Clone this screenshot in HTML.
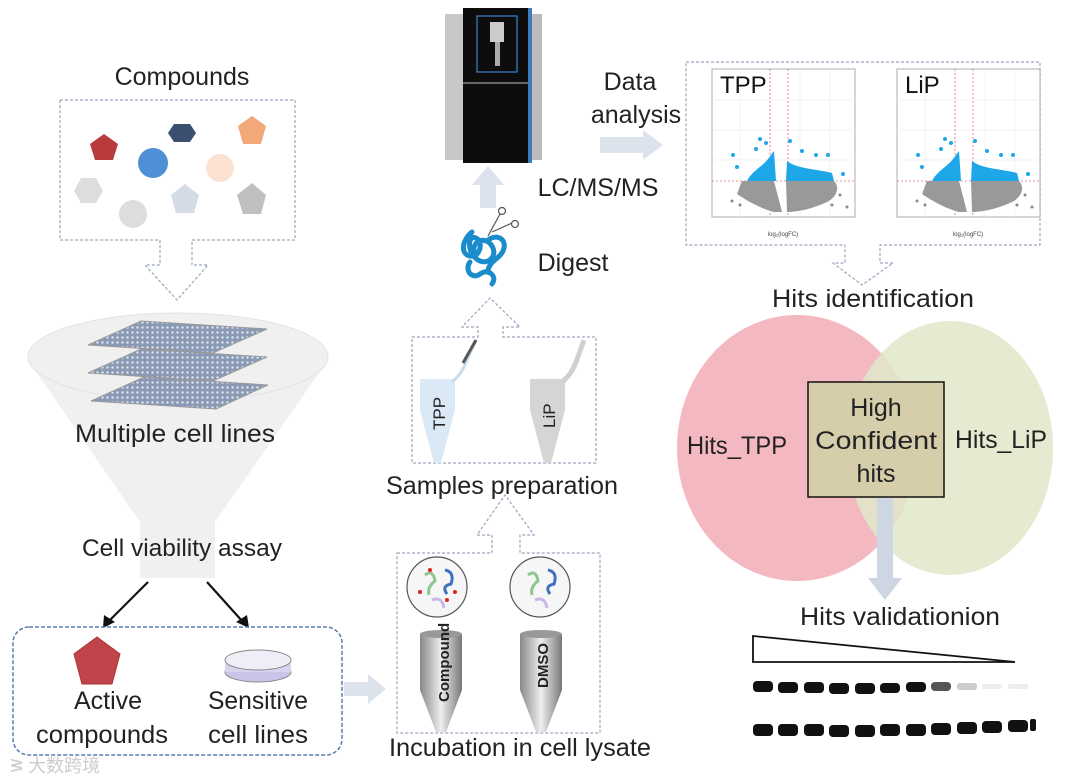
<!DOCTYPE html>
<html><head><meta charset="utf-8"><style>
html,body{margin:0;padding:0;background:#fff;}
svg{display:block;font-family:"Liberation Sans","DejaVu Sans",sans-serif;}
</style></head><body>
<svg width="1080" height="783" viewBox="0 0 1080 783" xmlns="http://www.w3.org/2000/svg">
<defs>
<pattern id="wells" width="5" height="5" patternUnits="userSpaceOnUse"><rect width="5" height="5" fill="#8a9ab5"/><circle cx="2.5" cy="2.5" r="1.2" fill="#dfe6f0"/></pattern>
<linearGradient id="tube" x1="0" x2="1"><stop offset="0" stop-color="#888"/><stop offset="0.5" stop-color="#eee"/><stop offset="1" stop-color="#777"/></linearGradient>
<g id="vplot">
<rect x="0" y="0" width="143" height="148" fill="#fff" stroke="#999" stroke-width="0.8"/>
<g stroke="#eee" stroke-width="0.7"><line x1="0" y1="31" x2="143" y2="31"/><line x1="0" y1="61" x2="143" y2="61"/><line x1="0" y1="91" x2="143" y2="91"/><line x1="28" y1="0" x2="28" y2="148"/><line x1="58" y1="0" x2="58" y2="148"/><line x1="88" y1="0" x2="88" y2="148"/><line x1="118" y1="0" x2="118" y2="148"/></g>
<g stroke="#e07070" stroke-width="0.8" stroke-dasharray="2,2"><line x1="58" y1="0" x2="58" y2="148"/><line x1="76" y1="0" x2="76" y2="148"/><line x1="0" y1="112" x2="143" y2="112"/></g>
<path d="M30,112 L62,112 L70,143 L62,143 C50,140 35,132 25,125 Z" fill="#999"/>
<path d="M74,112 L122,112 C128,118 125,128 115,133 C100,140 85,143 75,143 Z" fill="#999"/>
<path d="M35,112 C40,102 50,98 56,90 L62,82 L64,112 Z" fill="#1ea7e8"/>
<path d="M74,112 L75,92 C85,100 105,100 120,104 L122,112 Z" fill="#1ea7e8"/>
<g fill="#1ea7e8"><circle cx="21" cy="86" r="2"/><circle cx="44" cy="80" r="2"/><circle cx="48" cy="70" r="2"/><circle cx="54" cy="74" r="2"/><circle cx="78" cy="72" r="2"/><circle cx="90" cy="82" r="2"/><circle cx="104" cy="86" r="2"/><circle cx="116" cy="86" r="2"/><circle cx="131" cy="105" r="2"/><circle cx="25" cy="98" r="2"/></g>
<g fill="#888"><circle cx="20" cy="132" r="1.5"/><circle cx="28" cy="136" r="1.5"/><circle cx="120" cy="136" r="1.5"/><circle cx="135" cy="138" r="1.5"/><circle cx="128" cy="126" r="1.5"/></g>
<text x="71" y="167" font-size="6" text-anchor="middle" fill="#444">log₂(logFC)</text>
</g>
</defs>
<g fill="none" stroke="#9aa6bd" stroke-width="1.2" stroke-dasharray="3,2">
<path d="M60,100 H295 V240 H192 V265 H208 L177,300 L145,265 H160 V240 H60 Z"/>
<path d="M412,337 H478 V327 H462 L490,298 L520,327 H503 V337 H596 V463 H412 Z"/>
<path d="M397,553 H492 V535 H477 L505,495 L534,535 H520 V553 H600 V733 H397 Z"/>
<path d="M686,62 H1040 V245 H880 V263 H893 L862,285 L833,263 H845 V245 H686 Z"/>
</g>
<!-- compounds -->
<text x="182" y="85" font-size="25" text-anchor="middle" fill="#222">Compounds</text>
<polygon points="104,134 118,144 113,160 95,160 90,144" fill="#b83a3a"/>
<polygon points="174,124 190,124 196,133 190,142 174,142 168,133" fill="#3b4f70"/>
<polygon points="252,116 266,126 261,144 243,144 238,126" fill="#f2a878"/>
<circle cx="153" cy="163" r="15" fill="#4f8fd6"/>
<circle cx="220" cy="168" r="14" fill="#fbe1d0"/>
<polygon points="81,178 96,178 103,191 96,203 81,203 74,191" fill="#ddd"/>
<circle cx="133" cy="214" r="14" fill="#ddd"/>
<polygon points="185,184 199,195 194,213 176,213 171,195" fill="#d3dbe6"/>
<polygon points="252,183 266,195 261,214 243,214 237,195" fill="#c0c0c0"/>
<!-- funnel -->
<path d="M28,360 L140,522 V578 H215 V522 L328,360 Z" fill="#f0f0f0"/>
<ellipse cx="178" cy="357" rx="150" ry="44" fill="#f0f0f0" stroke="#dde4ec" stroke-width="1"/>
<g stroke="#999" stroke-width="1">
<polygon points="141,321 267,329 213,353 88,345" fill="url(#wells)"/>
<polygon points="141,349 267,357 213,381 88,373" fill="url(#wells)"/>
<polygon points="144,377 268,385 216,409 91,401" fill="url(#wells)"/>
</g>
<text x="175" y="442" font-size="25" text-anchor="middle" fill="#222" textLength="200" lengthAdjust="spacingAndGlyphs">Multiple cell lines</text>
<text x="182" y="556" font-size="24" text-anchor="middle" fill="#222" textLength="200" lengthAdjust="spacingAndGlyphs">Cell viability assay</text>
<g stroke="#111" stroke-width="2.2">
<line x1="148" y1="582" x2="108" y2="622"/><line x1="207" y1="582" x2="243" y2="622"/>
</g>
<polygon points="103,628 104,615 115,622" fill="#111"/>
<polygon points="249,628 236,622 247,615" fill="#111"/>
<rect x="13" y="627" width="329" height="128" rx="16" fill="none" stroke="#5a7ea8" stroke-width="1.5" stroke-dasharray="4,2"/>
<polygon points="97,637 120,654 112,684 82,684 74,654" fill="#c0454a" stroke="#a33" stroke-width="1"/>
<ellipse cx="258" cy="672" rx="33" ry="10" fill="#c9c5e8" stroke="#888"/>
<rect x="225" y="660" width="66" height="12" fill="#d8d4f0"/>
<ellipse cx="258" cy="660" rx="33" ry="10" fill="#eeeef8" stroke="#888"/>
<text x="108" y="709" font-size="25" text-anchor="middle" fill="#222">Active</text>
<text x="102" y="743" font-size="25" text-anchor="middle" fill="#222" textLength="132" lengthAdjust="spacingAndGlyphs">compounds</text>
<text x="258" y="709" font-size="25" text-anchor="middle" fill="#222" textLength="100" lengthAdjust="spacingAndGlyphs">Sensitive</text>
<text x="258" y="743" font-size="25" text-anchor="middle" fill="#222" textLength="100" lengthAdjust="spacingAndGlyphs">cell lines</text>
<polygon points="344,682 368,682 368,674 386,689 368,704 368,696 344,696" fill="#dde3ec"/>
<!-- instrument -->
<rect x="445" y="14" width="20" height="146" fill="#c8c8c8"/>
<rect x="530" y="14" width="12" height="146" fill="#bbb"/>
<rect x="463" y="8" width="68" height="155" fill="#0d0d0d"/>
<rect x="528" y="8" width="4" height="155" fill="#3b7bbf"/>
<rect x="477" y="16" width="40" height="56" fill="none" stroke="#3b7bbf" stroke-width="1.3"/>
<rect x="490" y="22" width="14" height="20" fill="#ccc"/>
<rect x="495" y="42" width="5" height="24" fill="#aaa"/>
<line x1="463" y1="83" x2="528" y2="83" stroke="#666" stroke-width="2"/>
<polygon points="480,208 480,185 472,185 488,166 504,185 496,185 496,208" fill="#dde3ec"/>
<text x="598" y="196" font-size="25" text-anchor="middle" fill="#222">LC/MS/MS</text>
<g fill="none" stroke="#1a8ccc" stroke-width="5" stroke-linecap="round">
<path d="M472,232 c-10,8 -12,22 -2,24 c10,2 14,-14 6,-18 c-8,-4 -10,14 2,22 c10,6 20,-4 14,-14 c-6,-10 -20,-6 -18,6"/>
<path d="M470,262 c-6,8 2,18 10,12 c8,-6 18,2 12,10"/>
<path d="M488,240 c8,-6 18,-2 16,8 c-2,10 -14,12 -16,22"/>
</g>
<g stroke="#555" fill="none" stroke-width="1.2"><circle cx="502" cy="211" r="3.5"/><circle cx="515" cy="224" r="3.5"/><line x1="500" y1="214" x2="488" y2="236"/><line x1="512" y1="223" x2="492" y2="232"/></g>
<text x="573" y="271" font-size="25" text-anchor="middle" fill="#222">Digest</text>
<!-- sample tubes -->
<path d="M420,379 H455 V410 L441,463 H434 L420,410 Z" fill="#dbe8f5"/>
<path d="M452,382 q10,-8 14,-20 l10,-22" fill="none" stroke="#c8dcee" stroke-width="3"/>
<line x1="463" y1="363" x2="476" y2="340" stroke="#555" stroke-width="3"/>
<text transform="translate(445,430) rotate(-90)" font-size="17" fill="#222">TPP</text>
<path d="M530,379 H565 V410 L551,463 H544 L530,410 Z" fill="#d5d5d5"/>
<path d="M562,382 q10,-8 14,-20 l8,-22" fill="none" stroke="#d0d0d0" stroke-width="5"/>
<text transform="translate(555,428) rotate(-90)" font-size="17" fill="#222">LiP</text>
<text x="502" y="494" font-size="25" text-anchor="middle" fill="#222" textLength="232" lengthAdjust="spacingAndGlyphs">Samples preparation</text>
<!-- incubation -->
<circle cx="437" cy="587" r="30" fill="#f6f6f6" stroke="#555" stroke-width="1.2"/>
<circle cx="540" cy="587" r="30" fill="#f6f6f6" stroke="#555" stroke-width="1.2"/>
<g fill="none" stroke-width="3"><path d="M425,575 q8,-6 10,6 q-8,6 -6,14" stroke="#8ec78e"/><path d="M445,570 q10,2 6,14 q-10,2 -4,10" stroke="#4070c0"/><path d="M432,600 q10,-4 12,8" stroke="#c9b6e4"/>
<path d="M528,575 q8,-6 10,6 q-8,6 -6,14" stroke="#8ec78e"/><path d="M548,570 q10,2 6,14 q-10,2 -4,10" stroke="#4070c0"/><path d="M535,600 q10,-4 12,8" stroke="#c9b6e4"/></g>
<g fill="#d22"><circle cx="430" cy="570" r="2"/><circle cx="447" cy="600" r="2"/><circle cx="420" cy="592" r="2"/><circle cx="455" cy="592" r="2"/></g>
<path d="M420,634 H462 V690 L446,732 H436 L420,690 Z" fill="url(#tube)"/>
<ellipse cx="441" cy="634" rx="21" ry="4" fill="#999"/>
<path d="M520,634 H562 V690 L546,732 H536 L520,690 Z" fill="url(#tube)"/>
<ellipse cx="541" cy="634" rx="21" ry="4" fill="#999"/>
<text transform="translate(449,702) rotate(-90)" font-size="15" font-weight="bold" fill="#222">Compound</text>
<text transform="translate(548,688) rotate(-90)" font-size="15" font-weight="bold" fill="#222">DMSO</text>
<text x="520" y="756" font-size="25" text-anchor="middle" fill="#222" textLength="262" lengthAdjust="spacingAndGlyphs">Incubation in cell lysate</text>
<!-- data analysis -->
<text x="630" y="90" font-size="25" text-anchor="middle" fill="#222">Data</text>
<text x="636" y="123" font-size="25" text-anchor="middle" fill="#222">analysis</text>
<polygon points="600,137 643,137 643,130 663,145 643,160 643,153 600,153" fill="#dde3ec"/>
<use href="#vplot" x="712" y="69"/>
<use href="#vplot" x="897" y="69"/>
<text x="720" y="93" font-size="24" fill="#111">TPP</text>
<text x="905" y="93" font-size="24" fill="#111">LiP</text>
<text x="873" y="307" font-size="25" text-anchor="middle" fill="#222" textLength="202" lengthAdjust="spacingAndGlyphs">Hits identification</text>
<!-- venn -->
<ellipse cx="797" cy="448" rx="120" ry="133" fill="#f4b8c0"/>
<ellipse cx="950" cy="448" rx="103" ry="127" fill="#dfe8c8" opacity="0.85"/>
<rect x="808" y="382" width="136" height="115" fill="#d6cdaa" stroke="#111" stroke-width="1.5"/>
<text x="876" y="416" font-size="25" text-anchor="middle" fill="#222">High</text>
<text x="876" y="449" font-size="25" text-anchor="middle" fill="#222" textLength="122" lengthAdjust="spacingAndGlyphs">Confident</text>
<text x="876" y="482" font-size="25" text-anchor="middle" fill="#222">hits</text>
<text x="737" y="454" font-size="25" text-anchor="middle" fill="#222" textLength="100" lengthAdjust="spacingAndGlyphs">Hits_TPP</text>
<text x="1001" y="448" font-size="25" text-anchor="middle" fill="#222" textLength="92" lengthAdjust="spacingAndGlyphs">Hits_LiP</text>
<polygon points="877,498 893,498 893,578 902,578 885,600 868,578 877,578" fill="#cdd6e2"/>
<text x="900" y="625" font-size="25" text-anchor="middle" fill="#222" textLength="200" lengthAdjust="spacingAndGlyphs">Hits validationion</text>
<polygon points="753,636 1015,662 753,662" fill="#fff" stroke="#111" stroke-width="1.8"/>
<g fill="#111">
<rect x="753" y="681" width="20" height="11" rx="4"/><rect x="778" y="682" width="20" height="11" rx="4"/><rect x="804" y="682" width="20" height="11" rx="4"/><rect x="829" y="683" width="20" height="11" rx="4"/><rect x="855" y="683" width="20" height="11" rx="4"/><rect x="880" y="683" width="20" height="10" rx="4"/><rect x="906" y="682" width="20" height="10" rx="4"/>
<rect x="931" y="682" width="20" height="9" rx="4" fill="#555"/><rect x="957" y="683" width="20" height="7" rx="3" fill="#ccc"/>
<rect x="982" y="684" width="20" height="5" rx="2" fill="#eee"/><rect x="1008" y="684" width="20" height="5" rx="2" fill="#eee"/>
</g>
<g fill="#111">
<rect x="753" y="724" width="20" height="12" rx="4"/><rect x="778" y="724" width="20" height="12" rx="4"/><rect x="804" y="724" width="20" height="12" rx="4"/><rect x="829" y="725" width="20" height="12" rx="4"/><rect x="855" y="725" width="20" height="12" rx="4"/><rect x="880" y="724" width="20" height="12" rx="4"/><rect x="906" y="724" width="20" height="12" rx="4"/><rect x="931" y="723" width="20" height="12" rx="4"/><rect x="957" y="722" width="20" height="12" rx="4"/><rect x="982" y="721" width="20" height="12" rx="4"/><rect x="1008" y="720" width="20" height="12" rx="4"/><rect x="1030" y="719" width="6" height="12" rx="2"/>
</g>
<text x="10" y="772" font-size="18" fill="#ccc" font-family="'Liberation Sans','Noto Sans CJK SC',sans-serif">ᕒ 大数跨境</text>
</svg>
</body></html>
